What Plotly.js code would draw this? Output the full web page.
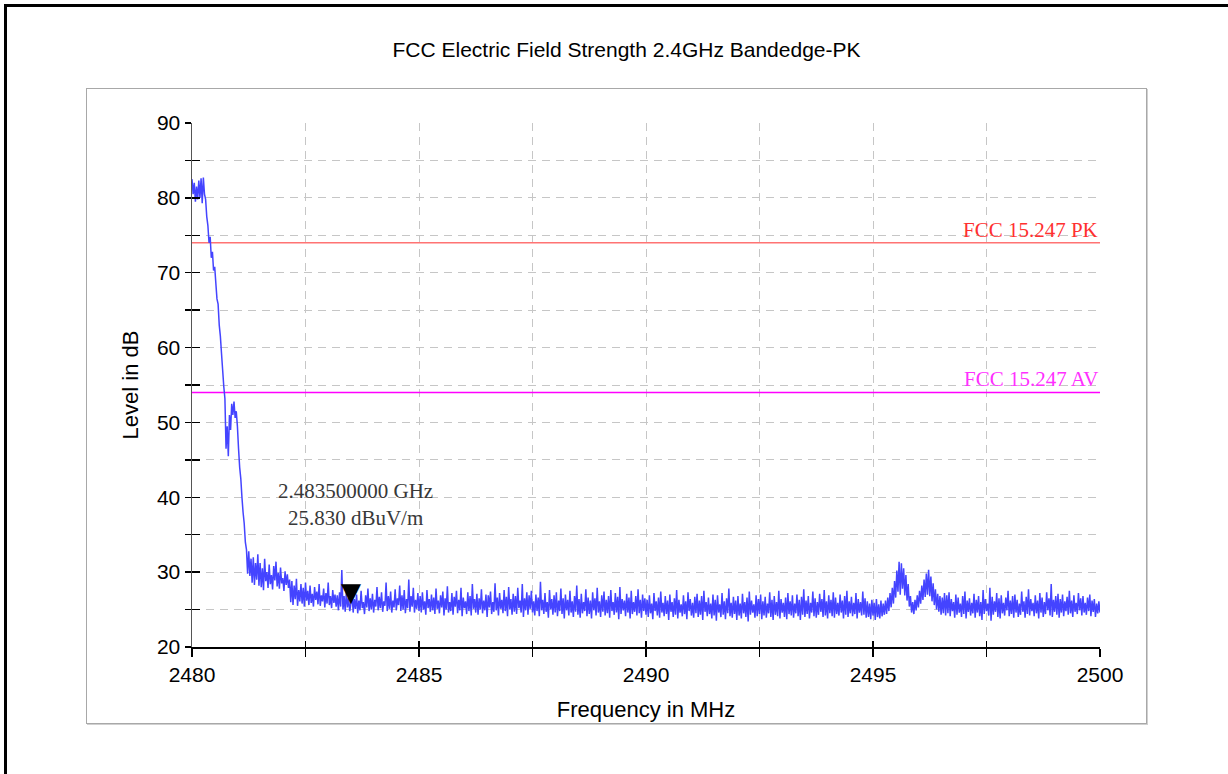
<!DOCTYPE html>
<html>
<head>
<meta charset="utf-8">
<script src="https://cdn.plot.ly/plotly-3.0.1.min.js"></script>
<style>
  html, body { margin: 0; padding: 0; background: #ffffff; }
  #wrap { position: relative; width: 1228px; height: 774px; overflow: hidden; background: #fff; }
  #outer { position: absolute; left: 4px; top: 4px; width: 1230px; height: 780px;
           border-top: 3px solid #000; border-left: 3px solid #000; }
  #inner { position: absolute; left: 86px; top: 88px; width: 1059px; height: 634px;
           border: 1px solid #a8a8a8; box-shadow: 1px 1px 0 #d0d0d0; }
  #chart { position: absolute; left: 0; top: 0; width: 1228px; height: 774px; }
</style>
</head>
<body>
<div id="wrap">
  <div id="outer"></div>
  <div id="inner"></div>
  <div id="chart"></div>
</div>
<script>
// ---------------- data ----------------
const chartTitle = 'FCC Electric Field Strength 2.4GHz Bandedge-PK';
const sweepStartMHz = 2480;
const sweepStepMHz = 0.025;

// 2480.000 - 2481.475 MHz : band edge roll-off
const levelEdge = [
  82.5, 80.5, 82.0, 79.5, 81.5, 79.8, 82.3, 80.0, 82.6, 79.3,
  82.7, 80.5, 79.8, 77.5, 76.3, 74.0, 74.8, 72.0, 72.8, 70.3,
  70.8, 68.6, 66.5, 65.8, 63.0, 61.5, 59.2, 57.0, 54.8, 53.2,
  46.5, 49.5, 45.5, 51.0, 49.0, 52.5, 51.0, 52.8, 50.6, 51.5,
  49.5, 46.5, 44.0, 42.5, 40.0, 38.0, 36.5, 34.0, 33.0, 29.8,
  32.8, 29.5, 31.8, 28.6, 32.0, 28.3, 31.2, 29.0, 32.4, 28.2
];
// 2481.500 - 2485.000 MHz
const levelFloorA = [
  31.2, 28.0, 30.5, 27.6, 31.8, 28.8, 30.0, 27.9, 31.0, 28.4,
  29.6, 27.7, 30.8, 28.9, 31.4, 28.1, 29.9, 27.8, 30.6, 28.5,
  29.2, 27.5, 30.1, 28.3, 29.7, 27.9, 29.0,
  26.0, 28.8, 25.6, 28.2, 26.4, 29.1, 25.5, 27.6, 26.1, 28.4,
  25.8, 27.9, 25.4, 28.6, 26.2,
  27.5, 25.6, 28.2, 25.9, 27.1, 25.4, 28.0, 26.3, 27.4, 25.7,
  28.4, 25.5, 26.9, 26.1, 27.8, 25.3, 27.2, 25.8, 28.6, 25.6,
  26.8, 25.2, 27.6, 25.9, 27.0, 25.4,
  26.9, 24.9, 27.3, 25.4, 30.3, 25.0, 26.8, 24.7, 27.4, 25.3,
  26.6, 24.8, 25.8, 27.2, 24.6, 26.4, 25.1, 27.0, 24.5, 26.2,
  24.9, 27.5, 25.2, 26.0, 24.4, 26.9, 25.3, 27.8, 24.8, 26.5,
  25.0, 27.1, 24.6, 26.3, 25.4, 28.0, 24.9, 26.7, 25.2, 27.3,
  24.7, 26.1, 25.5, 28.6, 24.8, 26.8, 25.1, 27.4, 24.6, 26.2,
  25.3, 27.7, 24.9, 26.5, 25.6, 28.2, 24.8, 26.9, 25.0, 27.6,
  24.5, 26.4, 25.2, 29.0, 24.7, 26.8, 25.4, 27.9, 24.6, 26.3,
  25.1, 27.2, 24.8
];
// 2485.025 - 2490.000 MHz
const levelFloorB = [
  26.8, 24.6, 27.3, 25.0, 26.1, 24.3, 27.6, 25.2, 26.4, 24.7, 27.0, 24.9, 26.6, 24.4, 27.8, 25.1, 26.2, 24.5, 26.9, 25.3,
  27.4, 24.2, 26.5, 25.0, 28.1, 24.6, 26.0, 24.8, 27.2, 24.3, 26.7, 25.4, 27.5, 24.5, 26.3, 24.9, 27.9, 24.1, 26.6, 25.2,
  26.1, 24.4, 27.3, 24.8, 26.8, 24.2, 28.4, 25.1, 26.4, 24.6, 27.1, 24.3, 26.5, 25.0, 27.7, 24.5, 26.2, 24.9, 27.0, 24.0,
  26.9, 25.3, 27.4, 24.4, 26.0, 24.7, 28.5, 24.9, 26.6, 24.2, 27.2, 25.1, 26.3, 24.5, 27.6, 24.8, 26.7, 24.1, 28.0, 25.0,
  26.4, 24.3, 27.1, 24.7, 26.8, 24.4, 27.9, 25.2, 26.2, 24.6, 28.4, 24.0, 26.5, 24.9, 27.3, 24.3, 26.9, 25.1, 27.5, 24.6,
  26.1, 24.2, 27.0, 24.8, 26.6, 24.1, 28.7, 24.9, 26.3, 24.4, 27.2, 24.7, 26.0, 23.9, 27.6, 25.0, 26.4, 24.3, 26.9, 24.6,
  27.3, 24.1, 26.2, 24.8, 27.8, 24.4, 26.5, 23.8, 27.0, 24.9, 26.3, 24.2, 27.5, 24.6, 26.1, 24.0, 26.8, 24.7, 28.2, 24.3,
  26.4, 23.9, 27.1, 24.5, 26.0, 24.8, 27.7, 24.1, 26.6, 24.4, 26.2, 23.8, 27.3, 24.9, 26.5, 24.2, 27.9, 24.6, 26.1, 24.0,
  26.9, 24.7, 27.4, 24.2, 26.3, 24.5, 26.8, 23.9, 27.6, 24.8, 26.0, 24.3, 27.2, 24.6, 26.7, 23.7, 28.0, 24.4, 26.4, 24.9,
  26.2, 24.1, 27.1, 24.6, 26.6, 23.8, 27.5, 24.4, 26.0, 24.7, 26.8, 24.2, 27.7, 24.5, 26.3, 23.9, 27.0, 24.8, 26.5, 24.3
];
// 2490.025 - 2495.250 MHz
const levelFloorC = [
  26.3, 24.0, 26.9, 24.5, 25.8, 23.7, 27.2, 24.8, 26.1, 24.2, 26.6, 23.9, 27.4, 24.6, 25.9, 24.1, 26.8, 24.4, 26.2, 23.6,
  27.0, 24.7, 26.0, 24.0, 26.5, 24.3, 27.6, 23.8, 26.3, 24.6, 25.7, 24.1, 26.9, 24.4, 26.1, 23.7, 27.3, 24.8, 26.4, 24.2,
  25.9, 23.9, 26.7, 24.5, 27.1, 24.0, 26.2, 24.3, 26.8, 23.6, 27.5, 24.7, 26.0, 24.1, 26.6, 24.4, 25.8, 23.8, 27.0, 24.2,
  26.3, 23.5, 26.9, 24.6, 25.7, 24.0, 27.2, 24.3, 26.1, 23.7, 26.5, 24.5, 27.8, 24.1, 25.9, 23.9, 26.7, 24.4, 26.2, 23.6,
  26.8, 24.2, 25.8, 23.8, 27.1, 24.5, 26.0, 24.0, 26.6, 23.4, 27.4, 24.3, 26.2, 24.6, 25.7, 23.9, 26.9, 24.1, 26.4, 24.4,
  27.0, 23.7, 26.1, 24.2, 26.7, 23.9, 25.8, 24.5, 27.3, 24.0, 26.3, 23.6, 26.8, 24.3, 26.0, 24.1, 27.5, 23.8, 26.4, 24.6,
  25.9, 24.0, 26.6, 23.7, 27.2, 24.4, 26.1, 24.2, 26.9, 23.9, 25.8, 24.5, 27.0, 24.1, 26.3, 23.6, 26.7, 24.3, 27.7, 24.0,
  26.2, 24.4, 26.8, 23.8, 25.9, 24.6, 27.4, 24.1, 26.5, 23.9, 26.0, 24.3, 27.1, 24.7, 26.4, 24.0, 27.6, 24.2, 26.1, 23.8,
  26.9, 24.5, 26.3, 24.1, 27.3, 23.9, 26.6, 24.4, 25.9, 24.2, 27.0, 24.6, 26.2, 23.8, 26.8, 24.3, 27.5, 24.0, 26.1, 24.5,
  26.7, 24.1, 25.9, 24.4, 27.2, 23.8, 26.4, 24.6, 26.0, 24.2, 27.4, 24.3, 26.5, 23.9, 26.1, 24.0, 25.8, 23.7, 26.3, 24.2,
  25.9, 23.6, 26.4, 24.0, 25.7, 23.8, 26.2, 24.1, 25.8, 24.3
];
// 2495.275 - 2496.600 MHz : two spurious bumps
const levelBumps = [
  26.2, 24.4, 26.6, 24.8, 27.2, 25.3, 27.9, 25.8, 28.8, 26.6,
  30.2, 27.4, 31.4, 27.0, 31.2, 27.8, 30.5, 26.9, 29.6, 26.2,
  28.4, 25.4, 26.8, 24.6, 26.0, 24.4, 26.3, 24.9, 26.9, 25.3,
  27.5, 25.8, 28.2, 26.3, 29.0, 26.7, 29.8, 27.0, 30.3, 26.8,
  29.4, 26.1, 28.5, 25.6, 27.7, 25.0, 27.1, 24.7, 26.8, 24.3,
  26.6, 24.5, 27.2, 24.2
];
// 2496.625 - 2500.000 MHz
const levelFloorD = [
  26.9, 24.5, 27.3, 24.1, 26.4, 24.8, 26.0, 23.9, 27.0, 24.3, 26.6, 24.6, 25.8, 24.0, 26.8, 24.4, 27.4, 23.8, 26.2, 24.7,
  26.5, 24.2, 25.9, 24.5, 27.1, 23.9, 26.3, 24.6, 26.8, 24.1, 26.0, 23.6, 27.6, 24.4, 26.4, 24.8, 25.8, 24.2, 27.9, 23.5,
  26.7, 24.3, 26.1, 24.7, 27.2, 24.0, 26.5, 23.8, 26.9, 24.5, 25.9, 24.2, 26.6, 24.9, 27.5, 24.1, 26.2, 24.4, 26.8, 23.9,
  27.0, 24.6, 26.3, 24.0, 25.8, 24.3, 27.4, 24.7, 26.1, 23.9, 26.7, 24.4, 27.7, 24.2, 26.4, 24.8, 25.9, 24.1, 26.9, 24.5,
  26.2, 23.8, 27.2, 24.6, 26.6, 24.0, 26.0, 24.4, 27.3, 24.9, 26.5, 24.2, 28.4, 24.0, 26.3, 24.7, 26.8, 24.3, 27.1, 23.9,
  26.4, 24.6, 27.0, 24.1, 26.1, 24.8, 26.7, 24.3, 27.5, 24.5, 26.2, 24.0, 26.9, 24.7, 25.9, 24.4, 27.2, 24.9, 26.5, 24.2,
  26.8, 24.6, 25.9, 24.3, 26.6, 24.8, 27.0, 24.1, 26.2, 24.7, 26.4, 24.0, 25.8, 24.5, 26.1, 24.6
];

const limitFreq = [2480, 2500];
const pkLimit = [74, 74];
const avLimit = [54, 54];
const pkLabel = 'FCC 15.247 PK';
const avLabel = 'FCC 15.247 AV';

const markerFreqMHz = 2483.5;
const markerLevel = 25.83;

const freqRange = [2480, 2500];
const levelRange = [20, 90];
const freqTickVals = [2480, 2482.5, 2485, 2487.5, 2490, 2492.5, 2495, 2497.5, 2500];
const freqTickText = ['2480', '', '2485', '', '2490', '', '2495', '', '2500'];
const levelTickVals = [20, 25, 30, 35, 40, 45, 50, 55, 60, 65, 70, 75, 80, 85, 90];
const levelTickText = ['20', '', '30', '', '40', '', '50', '', '60', '', '70', '', '80', '', '90'];

const xTitle = 'Frequency in MHz';
const yTitle = 'Level in dB';

// ---------------- build ----------------
const level = [].concat(levelEdge, levelFloorA, levelFloorB, levelFloorC, levelBumps, levelFloorD);

const SANS = 'Liberation Sans, Arial, sans-serif';
const SERIF = 'Liberation Serif, Times New Roman, serif';

const traces = [
  {
    type: 'scatter', mode: 'lines', name: 'PK limit',
    x: limitFreq, y: pkLimit,
    line: { color: '#ff7373', width: 1.6 }, hoverinfo: 'skip'
  },
  {
    type: 'scatter', mode: 'lines', name: 'AV limit',
    x: limitFreq, y: avLimit,
    line: { color: '#ff00ff', width: 1.4 }, hoverinfo: 'skip'
  },
  {
    type: 'scatter', mode: 'lines', name: 'Level',
    x0: sweepStartMHz, dx: sweepStepMHz, y: level,
    line: { color: '#4444ff', width: 1.5, simplify: false }, hoverinfo: 'skip'
  },
  {
    // carrier for the inner half of the crossing ticks
    type: 'scatter', mode: 'none', x: limitFreq, y: pkLimit,
    xaxis: 'x2', yaxis: 'y2', hoverinfo: 'skip', showlegend: false
  }
];

const gridDash = '8px,6px';

const layout = {
  width: 1228, height: 774,
  margin: { l: 192, r: 128, t: 123, b: 127, pad: 0 },
  paper_bgcolor: 'rgba(0,0,0,0)',
  plot_bgcolor: '#ffffff',
  showlegend: false,
  font: { family: SANS, color: '#000' },
  title: {
    text: chartTitle,
    font: { family: SANS, size: 21, color: '#000' },
    x: 626.5 / 1228, xref: 'container', xanchor: 'center',
    y: 1 - 50 / 774, yref: 'container', yanchor: 'middle'
  },
  xaxis: {
    range: freqRange, fixedrange: true,
    tickmode: 'array', tickvals: freqTickVals, ticktext: freqTickText,
    ticks: 'outside', ticklen: 8, tickwidth: 1.5, tickcolor: '#000',
    tickfont: { family: SANS, size: 21, color: '#000' },
    showline: true, linecolor: '#000', linewidth: 1.5,
    showgrid: true, gridcolor: '#c6c6c6', gridwidth: 1, griddash: gridDash,
    zeroline: false,
    title: { text: xTitle, font: { family: SANS, size: 22, color: '#000' }, standoff: 17 }
  },
  yaxis: {
    range: levelRange, fixedrange: true,
    tickmode: 'array', tickvals: levelTickVals, ticktext: levelTickText,
    ticks: 'outside', ticklen: 6, tickwidth: 1.5, tickcolor: '#000',
    tickfont: { family: SANS, size: 21, color: '#000' },
    showline: true, linecolor: '#555', linewidth: 1.5,
    showgrid: true, gridcolor: '#c6c6c6', gridwidth: 1, griddash: gridDash,
    zeroline: false,
    title: { text: yTitle, font: { family: SANS, size: 22, color: '#000' }, standoff: 12 }
  },
  xaxis2: {
    overlaying: 'x', anchor: 'y2', side: 'bottom', range: freqRange, fixedrange: true,
    tickmode: 'array', tickvals: freqTickVals, ticks: 'inside', ticklen: 6,
    tickwidth: 1.5, tickcolor: '#000', showticklabels: false,
    showgrid: false, zeroline: false, showline: false
  },
  yaxis2: {
    overlaying: 'y', anchor: 'x2', side: 'left', range: levelRange, fixedrange: true,
    tickmode: 'array', tickvals: levelTickVals, ticks: 'inside', ticklen: 8,
    tickwidth: 1.5, tickcolor: '#000', showticklabels: false,
    showgrid: false, zeroline: false, showline: false
  },
  annotations: [
    {
      x: limitFreq[1], y: pkLimit[1], xref: 'x', yref: 'y',
      xanchor: 'right', yanchor: 'bottom', yshift: -1, showarrow: false,
      text: pkLabel, font: { family: SERIF, size: 21, color: '#ff3030' }
    },
    {
      x: limitFreq[1], y: avLimit[1], xref: 'x', yref: 'y',
      xanchor: 'right', yanchor: 'bottom', yshift: -1, showarrow: false,
      text: avLabel, font: { family: SERIF, size: 21, color: '#ff30ff' }
    },
    {
      x: markerFreqMHz, y: markerLevel, xref: 'x', yref: 'y',
      xanchor: 'center', yanchor: 'bottom', yshift: -6, showarrow: false,
      text: '\u25BC', font: { family: 'DejaVu Sans', size: 26, color: '#000' }
    },
    {
      x: 2483.6, y: 39.0, xref: 'x', yref: 'y',
      xanchor: 'center', yanchor: 'middle', showarrow: false, align: 'center',
      text: (markerFreqMHz / 1000).toFixed(9) + ' GHz<br>' + markerLevel.toFixed(3) + ' dBuV/m',
      font: { family: SERIF, size: 21, color: '#383838' }
    }
  ]
};

Plotly.newPlot('chart', traces, layout, { displayModeBar: false, staticPlot: true });
</script>
</body>
</html>
